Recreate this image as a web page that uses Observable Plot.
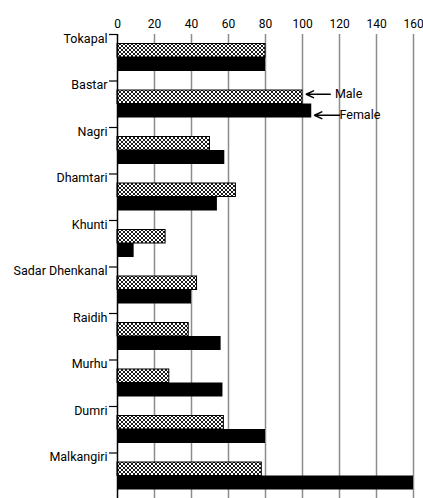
<!DOCTYPE html>
<html><head><meta charset="utf-8">
<script src="https://cdn.jsdelivr.net/npm/d3@7"></script>
<script src="https://cdn.jsdelivr.net/npm/@observablehq/plot@0.6"></script>
<style>html,body{margin:0;padding:0;overflow:hidden;background:#fff}</style>
</head><body>
<svg width="0" height="0" style="position:absolute"><defs>
<pattern id="hatch" patternUnits="userSpaceOnUse" width="4" height="4">
<rect width="4" height="4" fill="white"/>
<path d="M-1,-1L5,5M5,-1L-1,5" stroke="black" stroke-width="0.9"/>
</pattern></defs></svg>
<div id="chart"></div>
<script>
const districts = ["Tokapal","Bastar","Nagri","Dhamtari","Khunti","Sadar Dhenkanal","Raidih","Murhu","Dumri","Malkangiri"];
const male = [80,100,50,64,26,43,38.5,28,57.5,78];
const female = [80,105,58,54,9,40,56,57,80,160];
const xTicks = [0,20,40,60,80,100,120,140,160];
const annLabels = ["Male","Female"];
const annDistrict = ["Bastar","Bastar"];
const annHead = [102,106.5];
const annTail = [115,120];
const annText = [117.5,120];

const maleRows = districts.map((d,i)=>({district:d, value:male[i]}));
const femaleRows = districts.map((d,i)=>({district:d, value:female[i]}));
const ann = annLabels.map((l,i)=>({label:l, district:annDistrict[i], head:annHead[i], tail:annTail[i], text:annText[i]}));

const chart = Plot.plot({
  width: 423, height: 499,
  marginLeft: 117, marginRight: 10, marginTop: 34, marginBottom: 0,
  style: {fontFamily: "Roboto", fontSize: "13px", color: "black", background: "white"},
  x: {domain: [0,160]},
  y: {domain: districts, padding: 0, round: false},
  marks: [
    Plot.gridX(xTicks.slice(1), {stroke: "#8c8c8c", strokeOpacity: 1, strokeWidth: 1.5}),
    Plot.barX(maleRows, {x: "value", y: "district", fill: "url(#hatch)", stroke: "black", strokeWidth: 1, insetTop: 9.5, insetBottom: 23.5}),
    Plot.barX(femaleRows, {x: "value", y: "district", fill: "black", insetTop: 23, insetBottom: 9.5}),
    Plot.ruleX([0], {stroke: "black", strokeWidth: 1.5}),
    Plot.axisX({anchor: "top", ticks: xTicks, tickSize: 0, tickPadding: 7, fontSize: 12, label: null}),
    Plot.axisY({tickSize: 0, tickPadding: 10, dy: -19, fontSize: 12.5, label: null}),
    Plot.axisY({tickSize: 8, fill: null, dy: -23.25, strokeWidth: 1.2, label: null}),
    Plot.arrow(ann.slice(0,1), {x1: "tail", x2: "head", y1: "district", y2: "district", dy: -10, headLength: 8, headAngle: 50, strokeWidth: 1.5, stroke: "black"}),
    Plot.arrow(ann.slice(1), {x1: "tail", x2: "head", y1: "district", y2: "district", dy: 11, headLength: 8, headAngle: 50, strokeWidth: 1.5, stroke: "black"}),
    Plot.text(ann.slice(0,1), {x: "text", y: "district", text: "label", textAnchor: "start", dy: -10, fontSize: 12.5}),
    Plot.text(ann.slice(1), {x: "text", y: "district", text: "label", textAnchor: "start", dy: 11, fontSize: 12.5})
  ]
});
document.getElementById("chart").appendChild(chart);
</script>
</body></html>
